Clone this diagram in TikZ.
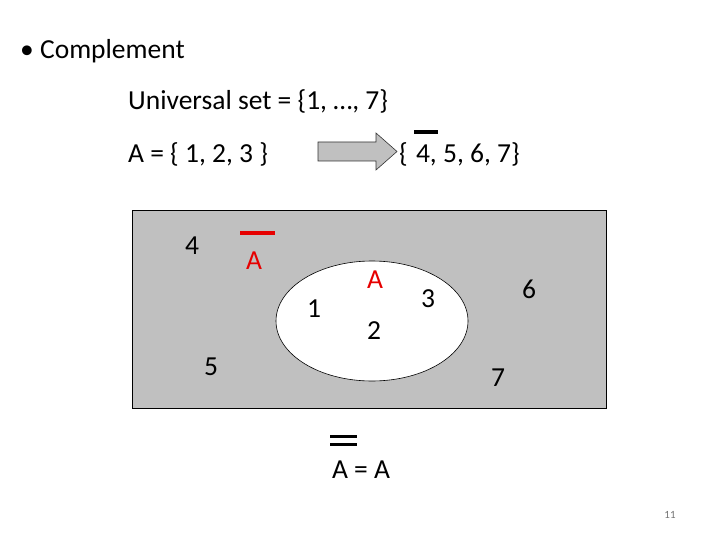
\documentclass[tikz,border=0pt]{standalone}
\usepackage{fontspec}
\setmainfont{Carlito}
\definecolor{setgray}{RGB}{192,192,192}
\definecolor{setred}{RGB}{230,0,0}
\tikzset{
    txt/.style={inner sep=0pt, font=\fontsize{27.5}{32}\selectfont},
    elem/.style={txt, text=black},
    setname/.style={txt, text=setred},
    bar/.style={line width=3.5pt},
}
\begin{document}
\begin{tikzpicture}[x=1pt,y=-1pt]
    \useasboundingbox (0,0) rectangle (720,540);
    % heading and set definitions
    \node[txt, anchor=west] (title) at (20,51) {• Complement};
    \node[txt, anchor=west] (univ) at (128,101) {Universal set = \{1, …, 7\}};
    \node[txt, anchor=west] (setA) at (128,154) {A = \{ 1, 2, 3 \}};
    \node[txt, anchor=west] (compA) at (399,154) {\{\hspace{2pt} 4, 5, 6, 7\}};
    \draw[bar] (414,132) -- (438,132);
    % block arrow
    \draw[fill=setgray, draw=black!80, line width=0.6pt]
        (318,142) -- (376,142) -- (376,133) -- (397,151.5) -- (376,170)
        -- (376,161) -- (318,161) -- cycle;
    % Venn diagram
    \draw[fill=setgray, line width=0.8pt] (132,210) rectangle (606,408);
    \draw[fill=white, line width=0.6pt] (372,321) ellipse (96 and 60);
    \foreach \x/\y/\n in {192/246/4, 211/367/5, 314/309/1, 374/331/2,
                          428/299/3, 529/289/6, 498/378/7} {
        \node[elem] (e\n) at (\x,\y) {\n};
    }
    \node[setname] (nameA) at (375,280) {A};
    \node[setname] (nameAc) at (254,261) {A};
    \draw[bar, setred] (240,233) -- (275,233);
    % double complement
    \node[txt] (dbl) at (361,470) {A = A};
    \draw[bar, line width=3pt] (330,436) -- (357,436);
    \draw[bar, line width=3pt] (330,444.5) -- (357,444.5);
    % page number
    \node[inner sep=0pt, font=\fontsize{11}{13}\selectfont, text=black!55] (page) at (670,515) {11};
\end{tikzpicture}
\end{document}
